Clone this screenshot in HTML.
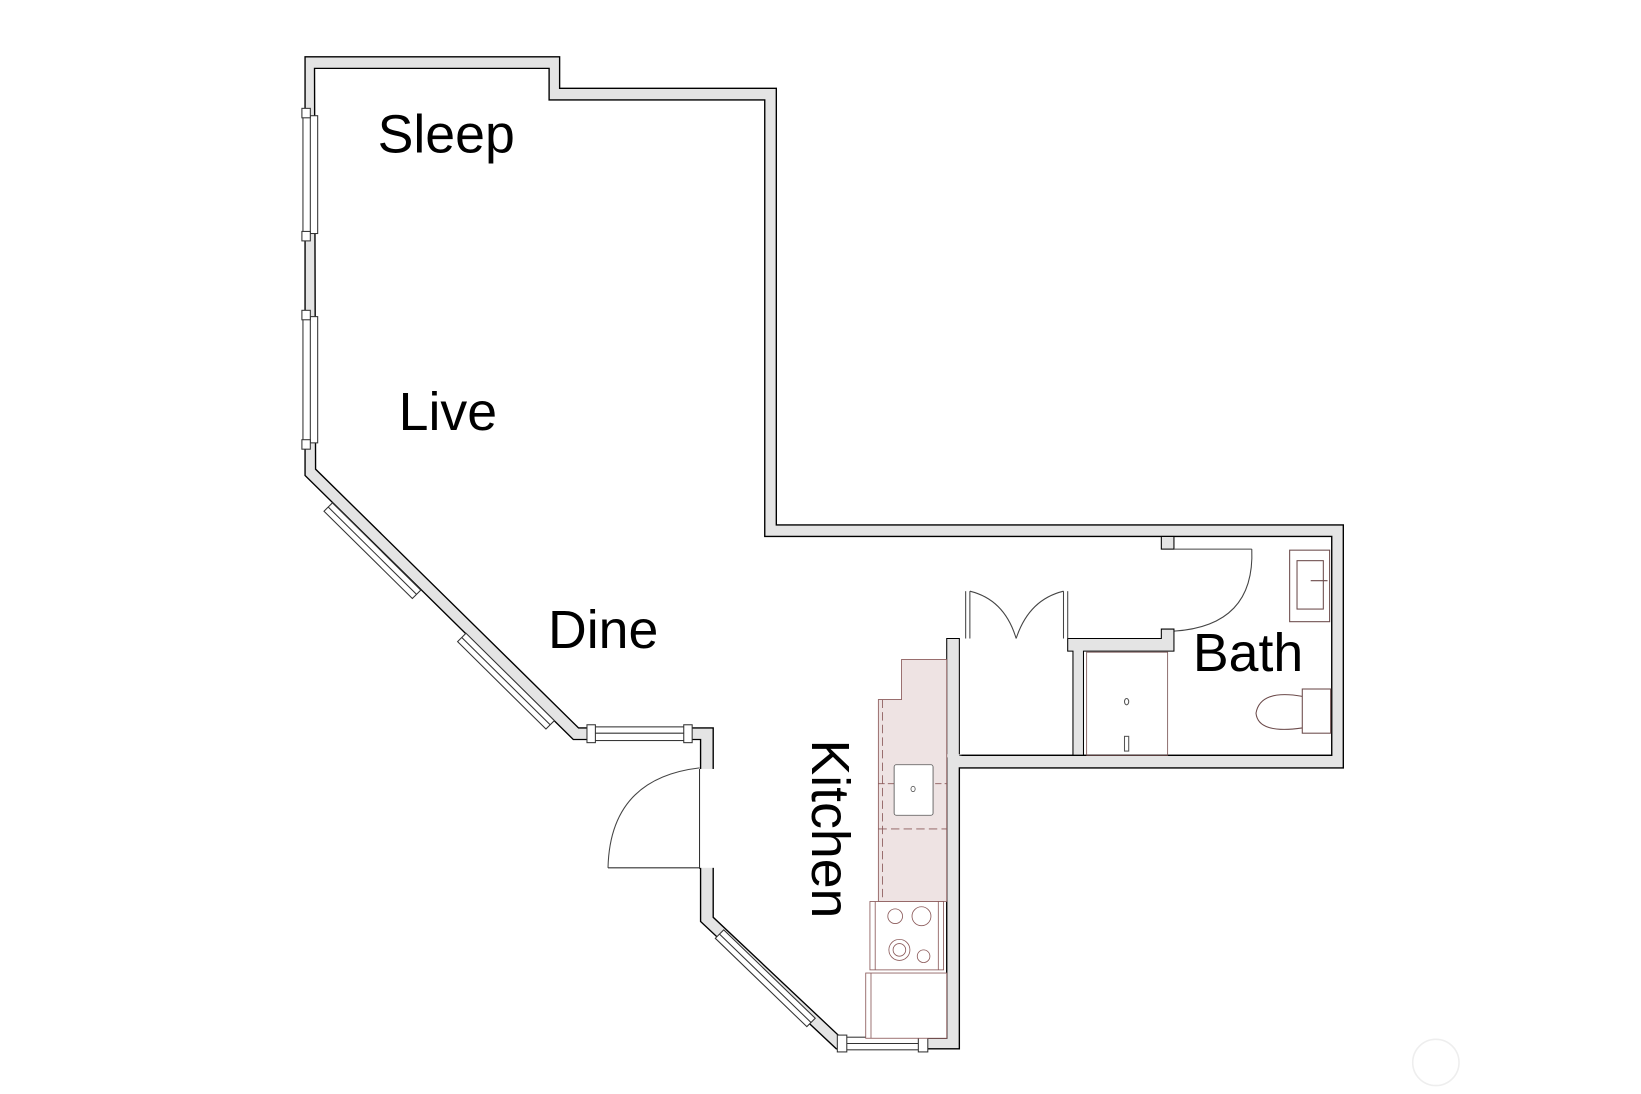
<!DOCTYPE html>
<html><head><meta charset="utf-8"><style>
html,body{margin:0;padding:0;background:#fff;}
svg{display:block}
text{font-family:"Liberation Sans",Arial,sans-serif;fill:#000}
</style></head><body>
<svg width="1641" height="1094" viewBox="0 0 1560 1040" xmlns="http://www.w3.org/2000/svg">
<rect width="1560" height="1040" fill="#fff"/>
<path d="M290,54 L532,54 L532,84 L738,84 L738,499 L1277,499 L1277,730 L912,730 L912,997 L795,997 L666,876 L666,703 L545,703 L290,452 Z" fill="#e4e4e4" stroke="#000" stroke-width="1.3"/>
<path d="M299,65 L522,65 L522,95 L727,95 L727,510 L1266,510 L1266,718 L900,718 L900,987 L800,987 L678,872 L678,692 L550,692 L300,446 Z" fill="#fff" stroke="#000" stroke-width="1.3"/>
<g fill="#fff" stroke="#333" stroke-width="1">
<rect x="288" y="110" width="14" height="112"/>
<line x1="295" y1="110" x2="295" y2="222"/>
<rect x="288" y="301" width="14" height="120"/>
<line x1="295" y1="301" x2="295" y2="421"/>
<rect x="287" y="103" width="8" height="9"/><rect x="287" y="220" width="8" height="9"/>
<rect x="287" y="295" width="8" height="9"/><rect x="287" y="418" width="8" height="9"/>
</g>
<g stroke="#333" stroke-width="1" fill="#fff">
<polygon points="316,478 400,561 392,569 308,486"/>
<line x1="312" y1="482" x2="396" y2="565"/>
<polygon points="443,602 527,685 519,693 435,610"/>
<line x1="439" y1="606" x2="523" y2="689"/>
<polygon points="688,884 775,968 767,976 680,892"/>
<line x1="684" y1="888" x2="771" y2="972"/>
</g>
<g stroke="#333" stroke-width="1" fill="#fff">
<rect x="564" y="691" width="88" height="13"/><line x1="564" y1="697" x2="652" y2="697"/>
<rect x="558" y="689" width="8" height="17"/><rect x="650" y="689" width="8" height="17"/>
<rect x="804" y="986" width="70" height="12"/><line x1="804" y1="992" x2="874" y2="992"/>
<rect x="796" y="984" width="9" height="16"/><rect x="873" y="984" width="9" height="16"/>
</g>
<rect x="664" y="731" width="16" height="94" fill="#fff"/>
<line x1="665" y1="731" x2="665" y2="826" stroke="#333" stroke-width="1"/>
<line x1="578" y1="825" x2="665" y2="825" stroke="#333" stroke-width="1"/>
<path d="M578,825 Q580,740 665,730" fill="none" stroke="#444" stroke-width="1"/>
<rect x="1104" y="510" width="12" height="12" fill="#e4e4e4" stroke="#000"/>
<line x1="1116" y1="522" x2="1190" y2="522" stroke="#444"/>
<path d="M1190,522 Q1193,595 1116,600" fill="none" stroke="#444"/>
<path d="M900,607 L912,607 L912,718 L900,718 Z" fill="#e4e4e4" stroke="#000"/>
<path d="M1015,607 L1104,607 L1104,598 L1116,598 L1116,619 L1030,619 L1030,718 L1020,718 L1020,619 L1015,619 Z" fill="#e4e4e4" stroke="#000"/>
<rect x="898" y="717" width="16" height="3" fill="#e4e4e4"/>
<line x1="912" y1="718" x2="1266" y2="718" stroke="#000"/>
<g stroke="#444" fill="none" stroke-width="1">
<line x1="918" y1="562" x2="918" y2="607"/><line x1="922" y1="562" x2="922" y2="607"/>
<line x1="1011" y1="562" x2="1011" y2="607"/><line x1="1015" y1="562" x2="1015" y2="607"/>
<path d="M922,562 Q955,570 966,607"/><path d="M1011,562 Q978,570 966,607"/>
</g>
<rect x="1033" y="620" width="77" height="98" fill="none" stroke="#7a5555" stroke-width="0.8"/>
<ellipse cx="1071" cy="667" rx="2" ry="3" fill="none" stroke="#555"/>
<rect x="1069" y="700" width="4" height="14" fill="none" stroke="#555"/>
<rect x="1226" y="523" width="38" height="68" fill="none" stroke="#6b4a4a"/>
<rect x="1233" y="533" width="25" height="46" fill="none" stroke="#6b4a4a"/>
<line x1="1246" y1="552" x2="1262" y2="552" stroke="#6b4a4a"/>
<rect x="1238" y="655" width="27" height="42" fill="none" stroke="#6b4a4a"/>
<path d="M1238,662 Q1198,655 1194,678 Q1196,698 1238,692" fill="none" stroke="#6b4a4a"/>
<g stroke="#8b5a5a" stroke-width="0.8">
<path d="M857,627 L900,627 L900,857 L835,857 L835,665 L857,665 Z" fill="#eee3e3"/>
<line x1="839" y1="665" x2="839" y2="857" stroke-dasharray="8,4"/>
<line x1="835" y1="745" x2="900" y2="745" stroke-dasharray="6,3"/>
<line x1="835" y1="788" x2="900" y2="788" stroke-dasharray="8,4"/>
<rect x="850" y="727" width="37" height="48" rx="2" fill="#fff" stroke="#555"/>
<ellipse cx="868" cy="750" rx="2" ry="2.5" fill="none" stroke="#555"/>
<rect x="827" y="857" width="70" height="65" fill="#fff"/>
<line x1="832" y1="857" x2="832" y2="922"/>
<line x1="892" y1="857" x2="892" y2="922"/>
<circle cx="851" cy="871" r="7" fill="none"/><circle cx="876" cy="871" r="9" fill="none"/>
<circle cx="855" cy="903" r="10" fill="none"/><circle cx="855" cy="903" r="6" fill="none"/>
<circle cx="878" cy="909" r="6" fill="none"/>
<rect x="823" y="925" width="77" height="62" fill="#fff"/>
<line x1="828" y1="925" x2="828" y2="987"/>
</g>
<text x="359" y="145" font-size="51">Sleep</text>
<text x="379" y="409" font-size="51">Live</text>
<text x="521" y="616" font-size="51">Dine</text>
<text x="1134" y="638" font-size="51">Bath</text>
<text transform="translate(772,703) rotate(90)" font-size="51">Kitchen</text>
<circle cx="1365" cy="1010" r="22" fill="none" stroke="#eee" stroke-width="1.5"/>
</svg>
</body></html>
